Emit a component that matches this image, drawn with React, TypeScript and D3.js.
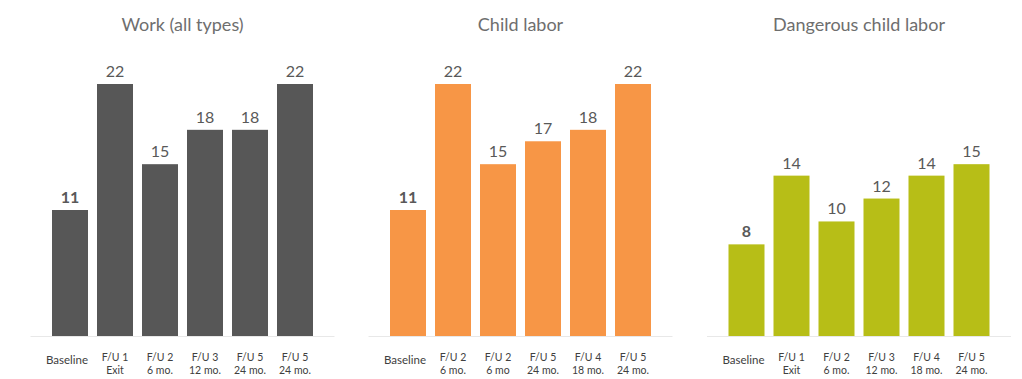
import React from "react";
import * as d3 from "d3";

const titles = ["Work (all types)", "Child labor", "Dangerous child labor"];
const workValues = [11, 22, 15, 18, 18, 22];
const childValues = [11, 22, 15, 17, 18, 22];
const dangerousValues = [8, 14, 10, 12, 14, 15];
const workLabels = ["Baseline", "F/U 1|Exit", "F/U 2|6 mo.", "F/U 3|12 mo.", "F/U 5|24 mo.", "F/U 5|24 mo."];
const childLabels = ["Baseline", "F/U 2|6 mo.", "F/U 2|6 mo", "F/U 5|24 mo.", "F/U 4|18 mo.", "F/U 5|24 mo."];
const dangerousLabels = ["Baseline", "F/U 1|Exit", "F/U 2|6 mo.", "F/U 3|12 mo.", "F/U 4|18 mo.", "F/U 5|24 mo."];
const colors = ["#575757", "#F79646", "#B7BE17"];

const W = 1022;
const H = 379;
const FONT = "Lato, 'Open Sans', sans-serif";

const panels = [
  { title: titles[0], values: workValues, labels: workLabels, color: colors[0], x0: 47.5 },
  { title: titles[1], values: childValues, labels: childLabels, color: colors[1], x0: 385.5 },
  { title: titles[2], values: dangerousValues, labels: dangerousLabels, color: colors[2], x0: 724 },
];

const y = d3.scaleLinear().domain([0, 22]).range([336, 84]);

export default function App() {
  return (
    <svg width={W} height={H} style={{ position: "absolute", left: 0, top: 0, background: "#fff" }} fontFamily={FONT}>
      <rect width={W} height={H} fill="#fff" />
      {panels.map((p, pi) => {
        const x = d3
          .scaleBand<number>()
          .domain(p.values.map((_, i) => i))
          .range([p.x0, p.x0 + 270])
          .paddingInner(0.2)
          .paddingOuter(0.1);
        const cx = p.x0 + 135;
        return (
          <g key={pi}>
            <text x={cx} y={31} textAnchor="middle" fontSize={18} fill="#6e6e6e">
              {p.title}
            </text>
            <line x1={p.x0 - 17} x2={p.x0 + 287} y1={y(0) + 0.5} y2={y(0) + 0.5} stroke="#e8e8e8" strokeWidth={1} />
            {p.values.map((v, i) => {
              const bx = x(i)!;
              const bw = x.bandwidth();
              const lines = p.labels[i].split("|");
              return (
                <g key={i}>
                  <rect x={bx} y={y(v)} width={bw} height={y(0) - y(v)} fill={p.color} />
                  <text
                    x={bx + bw / 2}
                    y={y(v) - 7}
                    textAnchor="middle"
                    fontSize={16}
                    fontWeight={i === 0 ? 700 : 400}
                    fill="#595959"
                  >
                    {v}
                  </text>
                  {lines.length === 1 ? (
                    <text x={bx + bw / 2 - 3} y={364} textAnchor="middle" fontSize={11.5} fill="#404040">
                      {lines[0]}
                    </text>
                  ) : (
                    lines.map((l, li) => (
                      <text key={li} x={bx + bw / 2} y={361 + li * 13} textAnchor="middle" fontSize={10.5} fill="#404040">
                        {l}
                      </text>
                    ))
                  )}
                </g>
              );
            })}
          </g>
        );
      })}
    </svg>
  );
}
